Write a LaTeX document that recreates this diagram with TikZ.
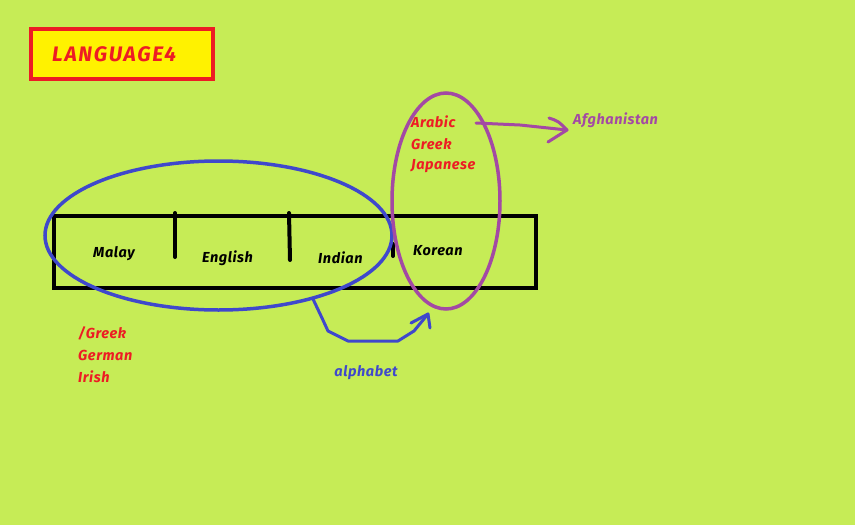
\documentclass[tikz,border=0pt]{standalone}
\usepackage{fontspec}
\setmainfont{Fira Sans}
\usetikzlibrary{shapes.geometric,arrows.meta}
\definecolor{bg}{RGB}{198,236,86}
\definecolor{pblue}{RGB}{63,72,204}
\definecolor{ppurple}{RGB}{163,73,164}
\definecolor{pred}{RGB}{237,28,36}
\definecolor{pyellow}{RGB}{255,242,0}
\tikzset{
  lbl/.style={font=\fontsize{14.5}{17}\selectfont\itshape\bfseries\addfontfeature{LetterSpace=4}, inner sep=0pt, anchor=west},
  blacktxt/.style={lbl, text=black},
  redtxt/.style={lbl, text=pred},
  bline/.style={line width=4pt, black},
  ring/.style={ellipse, draw, line width=3.5pt, inner sep=0pt},
  hand/.style={line width=3pt, line cap=round, line join=round},
}
\begin{document}
\begin{tikzpicture}[x=1pt,y=-1pt]
\fill[bg] (0,0) rectangle (855,525);
\useasboundingbox (0,0) rectangle (855,525);
% title
\node[draw=pred, fill=pyellow, line width=4pt, minimum width=182pt, minimum height=50pt, inner sep=0pt] (title) at (122,54) {};
\node[font=\fontsize{21}{25}\selectfont\itshape\bfseries\addfontfeature{LetterSpace=8}, text=pred, inner sep=0pt, anchor=west] (titletext) at (52,54) {LANGUAGE4};
% main box
\node[draw, line width=4pt, minimum width=482pt, minimum height=72pt, inner sep=0pt] (bar) at (295,252) {};
\coordinate (d1t) at (175,213); \coordinate (d1b) at (175,257);
\coordinate (d2t) at (289,213); \coordinate (d2b) at (290,260);
\coordinate (d3t) at (393,244); \coordinate (d3b) at (393,256);
\draw[bline, line cap=round] (d1t) -- (d1b);
\draw[bline, line cap=round] (d2t) -- (d2b);
\draw[bline, line cap=round] (d3t) -- (d3b);
\node[blacktxt] (malay) at (93,254) {Malay};
\node[blacktxt] (english) at (202,258) {English};
\node[blacktxt] (indian) at (318,258) {Indian};
\node[blacktxt] (korean) at (413,251) {Korean};
% ellipses
\node[ring, draw=pblue, minimum width=347pt, minimum height=149pt] (blueell) at (218.5,235.5) {};
\node[ring, draw=ppurple, minimum width=108pt, minimum height=216pt] (purpleell) at (446,201) {};
% red lists
\node[redtxt] (arabic) at (411,122) {Arabic};
\node[redtxt] (greek) at (411,144) {Greek};
\node[redtxt] (japanese) at (411,166) {Japanese};
\node[redtxt] (sgreek) at (78,333) {/Greek};
\node[redtxt] (german) at (78,355) {German};
\node[redtxt] (irish) at (78,377) {Irish};
% labels
\node[lbl, text=ppurple] (afg) at (573,120) {Afghanistan};
\node[lbl, text=pblue, anchor=center] (alpha) at (366,373) {alphabet};
% purple arrow
\coordinate (pa) at (476,123);
\coordinate (ptip) at (567,130);
\draw[hand, ppurple] (pa) -- (520,125) -- (ptip);
\draw[hand, ppurple] (549,118) .. controls (558,121) .. (ptip) -- (548,142);
% blue arrow
\coordinate (ba) at (313,299);
\coordinate (btip) at (428,314);
\draw[hand, pblue] (ba) -- (322,318) -- (328,331) -- (348,341) -- (398,341) -- (414,331) -- (btip);
\draw[hand, pblue] (411,323) -- (btip) -- (430,328);
\end{tikzpicture}
\end{document}
